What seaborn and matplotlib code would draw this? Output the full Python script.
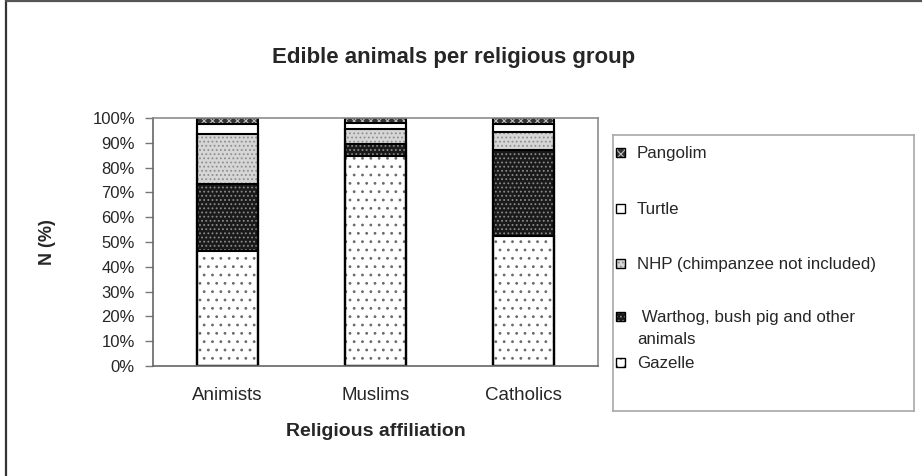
import matplotlib
matplotlib.use("Agg")
import matplotlib.pyplot as plt
import seaborn as sns
import numpy as np
import pandas as pd
from matplotlib.patches import Rectangle
from matplotlib.lines import Line2D

# ---- data (percent of edible animals cited per group) ----
groups = ["Animists", "Muslims", "Catholics"]
gazelle = [46.5, 84.5, 52.5]
warthog = [27.0, 5.0, 34.5]
nhp = [20.0, 6.0, 7.5]
turtle = [4.0, 2.5, 3.0]
pangolim = [2.5, 2.0, 2.5]

labels = ["Gazelle",
          " Warthog, bush pig and other\nanimals",
          "NHP (chimpanzee not included)",
          "Turtle",
          "Pangolim"]
y_ticks = list(range(0, 101, 10))

# fill colour, hatch, hatch colour for each stacked layer (bottom -> top)
styles = [
    ("#ffffff", "..", "#6a6a6a"),
    ("#1a1a1a", "....", "#8a8a8a"),
    ("#d6d6d6", "....", "#8f8f8f"),
    ("#ffffff", None, "#ffffff"),
    ("#333333", "xxxx", "#c0c0c0"),
]

sns.set_style("white")
plt.rcParams["font.family"] = ["Liberation Sans", "DejaVu Sans"]
plt.rcParams["hatch.linewidth"] = 0.8

W, H = 922, 476
fig = plt.figure(figsize=(W / 100, H / 100), dpi=100)

def fx(px):
    return px / W

def fy(px):
    return 1 - px / H

ax = fig.add_axes([fx(153), fy(366), fx(598) - fx(153), fy(118) - fy(366)])

layers = [gazelle, warthog, nhp, turtle, pangolim]
cum = np.cumsum(np.array(layers), axis=0)

# stacked bars: draw cumulative totals from the top layer down
for i in range(len(layers) - 1, -1, -1):
    df = pd.DataFrame({"group": groups, "value": cum[i]})
    face, hatch, hcol = styles[i]
    sns.barplot(data=df, x="group", y="value", order=groups, color=face,
                saturation=1, width=0.41, errorbar=None, hatch=hatch,
                edgecolor=hcol, linewidth=0, ax=ax)

# black outlines for every segment
for i in range(len(layers)):
    df = pd.DataFrame({"group": groups, "value": cum[i]})
    sns.barplot(data=df, x="group", y="value", order=groups, color="black",
                fill=False, width=0.41, errorbar=None, edgecolor="black",
                linewidth=1.5, ax=ax)

ax.set_xlim(-0.5, 2.5)
ax.set_ylim(0, 100)
ax.set_yticks(y_ticks)
ax.set_yticklabels([f"{t}%" for t in y_ticks], fontsize=12)
ax.tick_params(axis="y", length=6, width=1, color="#777777", pad=7, left=True)
ax.tick_params(axis="x", length=0, pad=15, labelsize=13.5)
for s in ax.spines.values():
    s.set_color("#8c8c8c")
    s.set_linewidth(1.2)
ax.spines["left"].set_color("#666666")
ax.spines["bottom"].set_color("#666666")

ax.set_xlabel("Religious affiliation", fontsize=14, fontweight="bold")
ax.xaxis.set_label_coords(0.5, (366 - 432) / 248, transform=ax.transAxes)
ax.set_ylabel("N (%)", fontsize=13, fontweight="bold")
ax.yaxis.set_label_coords((48 - 153) / 445, 0.5, transform=ax.transAxes)
ax.xaxis.label.set_va("center")
ax.yaxis.label.set_va("center")

fig.text(fx(454), fy(57), "Edible animals per religious group",
         ha="center", va="center", fontsize=16, fontweight="bold")

# ---- legend box ----
lx0, ly0, lx1, ly1 = 613, 135, 914, 411
lax = fig.add_axes([fx(lx0), fy(ly1), fx(lx1) - fx(lx0), fy(ly0) - fy(ly1)])
lax.set_xlim(0, lx1 - lx0)
lax.set_ylim(ly1 - ly0, 0)
lax.set_xticks([])
lax.set_yticks([])
for s in lax.spines.values():
    s.set_color("#a8a8a8")
    s.set_linewidth(1.2)

leg_fs = 12.2
leg_px = leg_fs * 100 / 72
entry_y = [362, 316, 263, 208, 152]
for i in range(len(layers) - 1, -1, -1):
    face, hatch, hcol = styles[i]
    yc = entry_y[i] - ly0
    lax.add_patch(Rectangle((2.5, yc - 4.5), 9, 9, facecolor=face, hatch=hatch,
                            edgecolor=hcol, linewidth=0))
    lax.add_patch(Rectangle((2.5, yc - 4.5), 9, 9, facecolor="none",
                            edgecolor="black", linewidth=1.0))
    lax.text(24, yc - 0.34 * leg_px, labels[i], fontsize=leg_fs,
             va="top", ha="left", linespacing=1.55)

# outer frame lines
fig.add_artist(Line2D([fx(6), fx(6)], [0, 1], transform=fig.transFigure,
                      color="#333333", linewidth=1.6))
fig.add_artist(Line2D([fx(6), 1], [fy(1), fy(1)], transform=fig.transFigure,
                      color="#555555", linewidth=1.6))

fig.savefig("out.png", dpi=100)
